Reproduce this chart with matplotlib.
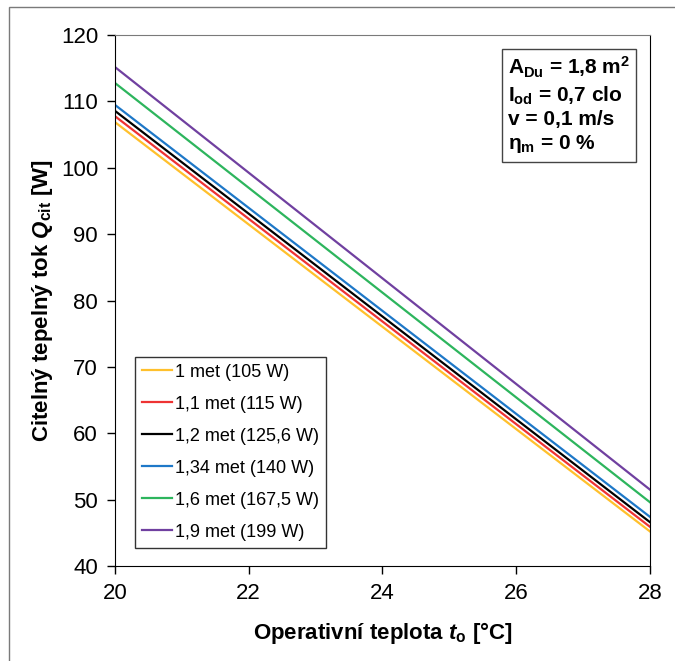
import matplotlib
matplotlib.use('Agg')
import matplotlib.pyplot as plt
from matplotlib.offsetbox import AnchoredText
from matplotlib.patches import Rectangle

FONT = ['Liberation Sans', 'DejaVu Sans']

# data
teplota = [20, 28]
labels = ['1 met (105 W)', '1,1 met (115 W)', '1,2 met (125,6 W)',
          '1,34 met (140 W)', '1,6 met (167,5 W)', '1,9 met (199 W)']
q_1met = [106.9, 45.2]
q_11met = [107.8, 45.9]
q_12met = [108.6, 46.6]
q_134met = [109.5, 47.4]
q_16met = [112.8, 49.6]
q_19met = [115.2, 51.5]
colors = ['#FFC02C', '#EE3333', '#000000', '#1E78C8', '#2DB55D', '#7040A0']
x_ticks = [20, 22, 24, 26, 28]
y_ticks = [40, 50, 60, 70, 80, 90, 100, 110, 120]


def plot_qcit():
    plt.rcParams['font.family'] = FONT
    plt.rcParams['mathtext.fontset'] = 'custom'
    plt.rcParams['mathtext.rm'] = 'Liberation Sans:bold'
    plt.rcParams['mathtext.it'] = 'Liberation Sans:italic:bold'
    plt.rcParams['mathtext.bf'] = 'Liberation Sans:bold'

    fig = plt.figure(figsize=(6.75, 6.61), dpi=100)
    ax = fig.add_axes([0.170, 0.1437, 0.793, 0.8033])

    series = [q_1met, q_11met, q_12met, q_134met, q_16met, q_19met]
    for ys, c, lab in zip(series, colors, labels):
        ax.plot(teplota, ys, color=c, lw=1.6, label=lab)

    ax.set_xlim(20, 28)
    ax.set_ylim(40, 120)
    ax.set_xticks(x_ticks)
    ax.set_yticks(y_ticks)
    ax.tick_params(direction='out', length=6, width=1, labelsize=16, pad=6)

    for s in ['left', 'bottom', 'right']:
        ax.spines[s].set_color('black')
    ax.spines['top'].set_color('#7a7a7a')

    ax.set_xlabel(r'Operativní teplota $t_\mathrm{o}$ $\mathrm{[°C]}$',
                  fontsize=16, fontweight='bold', labelpad=12)
    ax.set_ylabel(r'Citelný tepelný tok $Q_\mathrm{cit}$ $\mathrm{[W]}$',
                  fontsize=16, fontweight='bold', labelpad=4)

    leg = ax.legend(loc='lower left', bbox_to_anchor=(0.037, 0.034),
                    borderaxespad=0, fontsize=13, handlelength=1.7,
                    handletextpad=0.15, labelspacing=0.83, fancybox=False,
                    framealpha=1, borderpad=0.4)
    leg.get_frame().set_edgecolor('#333333')
    leg.get_frame().set_linewidth(1)

    info = ('A$_{\\mathrm{Du}}$ = 1,8 m$^{\\mathrm{2}}$\n'
            'I$_{\\mathrm{od}}$ = 0,7 clo\n'
            'v = 0,1 m/s\n'
            '$\\mathrm{η}_{\\mathrm{m}}$ = 0 %')
    at = AnchoredText(info, loc='upper right', frameon=True, pad=0.3,
                      borderpad=0.65,
                      prop=dict(size=15, weight='bold', linespacing=1.25))
    at.patch.set_edgecolor('#444444')
    at.patch.set_linewidth(1)
    ax.add_artist(at)

    fig.patches.append(Rectangle((9 / 675, -0.02), 1.0, 1 - 7 / 661 + 0.02,
                                 transform=fig.transFigure, fill=False,
                                 edgecolor='#7a7a7a', lw=1))

    fig.savefig('out.png', dpi=100)


if __name__ == '__main__':
    plot_qcit()
